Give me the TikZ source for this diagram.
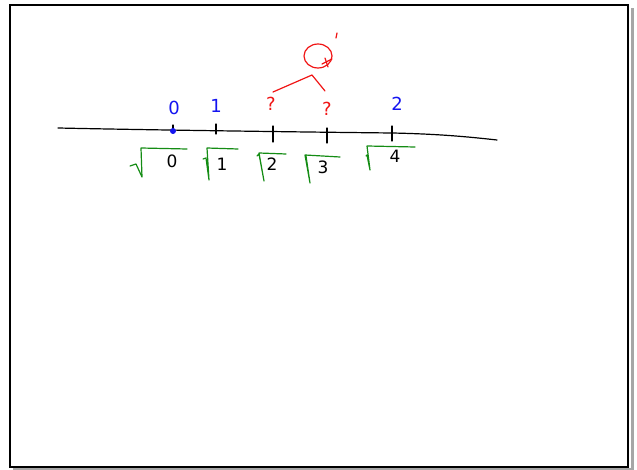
\documentclass[tikz,border=0pt]{standalone}
\usepackage{fontspec}
\setmainfont{DejaVu Sans}
\definecolor{inkblue}{RGB}{20,20,240}
\definecolor{inkred}{RGB}{240,20,20}
\definecolor{inkgreen}{RGB}{20,140,20}
\tikzset{
  ink/.style={line width=1.2pt, line cap=round, line join=round},
  radical/.style={ink, draw=inkgreen},
  redink/.style={ink, draw=inkred},
  lbl/.style={inner sep=0pt, font=\fontsize{18}{18}\selectfont},
  bluelbl/.style={lbl, text=inkblue},
  redlbl/.style={lbl, text=inkred, font=\fontsize{18}{18}\selectfont},
  blacklbl/.style={lbl, text=black, font=\fontsize{17}{17}\selectfont},
}
\begin{document}
\begin{tikzpicture}[x=1pt,y=-1pt]
\useasboundingbox (0,0) rectangle (637,470);
% frame with shadow
\fill[gray!70] (631,8) rectangle (634,470);
\fill[gray!70] (13,468) rectangle (634,470);
\draw[line width=2pt] (10,5) rectangle (628,467);
% number line
\draw[ink] (58,128) .. controls (150,130) and (300,132) .. (392,133) .. controls (440,134) and (470,137) .. (497,140);
% ticks
\coordinate (t0) at (173,131);
\draw[ink] (173,125) -- (173,133);
\draw[ink] (216,124) -- (216,134);
\draw[ink] (273,126) -- (273,142);
\draw[ink] (327,128) -- (327,143);
\draw[ink] (392,126) -- (392,141);
\fill[inkblue] (t0) circle (3);
% blue labels
\node[bluelbl] (b0) at (174,108) {0};
\node[bluelbl] (b1) at (216,106) {1};
\node[bluelbl] (b2) at (397,104) {2};
% red question marks
\node[redlbl] (q1) at (271,104) {?};
\node[redlbl] (q2) at (327,109) {?};
% red connector and circle
\coordinate (apex) at (312,75);
\coordinate (l1) at (273,92);
\coordinate (l2) at (325,91);
\draw[redink] (l1) -- (apex) -- (l2);
\draw[redink] (318,56) ellipse (14 and 12);
\draw[redink] (322,64) -- (332,59);
\draw[redink] (325,58) -- (328,67);
\draw[redink] (337,33) -- (336,38);
% radicals
\draw[radical] (130,166) -- (136,164) -- (142,177) -- (141,148) -- (187,149);
\draw[radical] (203,159) -- (206,158) -- (209,180) -- (207,148) -- (238,149);
\draw[radical] (257,156) -- (259,154) -- (264,181) -- (259,153) -- (286,154);
\draw[radical] (305,157) -- (306,156) -- (310,183) -- (305,155) -- (340,157);
\draw[radical] (366,156) -- (367,155) -- (370,170) -- (367,146) -- (415,147);
% black radicands
\node[blacklbl] (r0) at (172,161) {0};
\node[blacklbl] (r1) at (222,164) {1};
\node[blacklbl] (r2) at (272,164) {2};
\node[blacklbl] (r3) at (323,167) {3};
\node[blacklbl] (r4) at (395,156) {4};
\end{tikzpicture}
\end{document}
